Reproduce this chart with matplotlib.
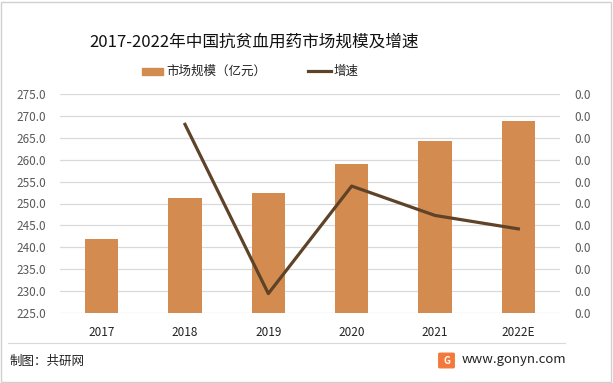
import numpy as np
import matplotlib.pyplot as plt
from matplotlib.patches import Rectangle, FancyBboxPatch
from matplotlib.lines import Line2D

plt.rcParams['font.family'] = ['Noto Sans CJK SC', 'DejaVu Sans']

years = ['2017', '2018', '2019', '2020', '2021', '2022E']
market = [241.9, 251.3, 252.5, 259.1, 264.3, 268.9]
growth = [None, 0.0384, 0.0044, 0.0260, 0.0201, 0.0174]

bar_c = '#D38B4F'
line_c = '#5E4328'

fig = plt.figure(figsize=(6.13, 3.83), dpi=100)
W, H = 613, 383
ax = fig.add_axes([60 / W, 1 - 313 / H, 500 / W, 219 / H])
x = np.arange(len(years))
ax.bar(x, market, width=0.4, color=bar_c, zorder=2)
ax.set_xlim(-0.5, len(years) - 0.5)
ax.set_ylim(225, 275)
ax.set_yticks(np.arange(225, 276, 5))
ax.set_yticklabels(['%.1f' % v for v in np.arange(225, 276, 5)], color='#595959', fontsize=8.5)
ax.set_xticks(x)
ax.set_xticklabels(years, fontsize=8.5, color='#222222')
ax.tick_params(length=0, pad=10)
ax.tick_params(axis='x', pad=9)
ax.grid(axis='y', color='#D9D9D9', lw=0.9, zorder=0)
for s in ax.spines.values():
    s.set_visible(False)

ax2 = ax.twinx()
gx = [i for i, g in enumerate(growth) if g is not None]
gy = [g for g in growth if g is not None]
ax2.plot(gx, gy, color=line_c, lw=2.3, zorder=3)
lo, step = 0.0005, 0.0044
ax2.set_ylim(lo, lo + 10 * step)
ticks = lo + step * np.arange(11)
ax2.set_yticks(ticks)
ax2.set_yticklabels(['%.1f' % t for t in ticks], color='#595959', fontsize=8.5)
ax2.tick_params(length=0, pad=10)
for s in ax2.spines.values():
    s.set_visible(False)

fig.text(254 / W, 1 - 42 / H, '2017-2022年中国抗贫血用药市场规模及增速', ha='center', va='center', fontsize=12, color='#111111')

# legend
fig.patches.append(Rectangle((142 / W, 1 - 75 / H), 21 / W, 7 / H, transform=fig.transFigure, color=bar_c))
fig.text(166 / W, 1 - 71 / H, '市场规模（亿元）', va='center', fontsize=9, color='#222222')
fig.lines.append(Line2D([308 / W, 331 / W], [1 - 71 / H, 1 - 71 / H], transform=fig.transFigure, color=line_c, lw=2.3))
fig.text(334 / W, 1 - 71 / H, '增速', va='center', fontsize=9, color='#222222')

# footer
fig.lines.append(Line2D([8 / W, 565 / W], [1 - 343 / H, 1 - 343 / H], transform=fig.transFigure, color='#D9D9D9', lw=0.8))
fig.text(10 / W, 1 - 361 / H, '制图：共研网', va='center', fontsize=9, color='#222222')
fig.patches.append(FancyBboxPatch((440 / W, 1 - 367 / H), 13 / W, 13 / H, boxstyle='round,pad=0.002', transform=fig.transFigure, color='#F2793A'))
fig.text(446.5 / W, 1 - 360.5 / H, 'G', ha='center', va='center', fontsize=7, color='white', fontweight='bold')
fig.text(462 / W, 1 - 360 / H, 'www.gonyn.com', va='center', fontsize=9.5, color='#222222')

# outer border
fig.patches.append(Rectangle((1 / W, 1 / H), 1 - 3 / W, 1 - 3 / H, transform=fig.transFigure, fill=False, ec='#D0D0D0', lw=1))

fig.savefig('out.png', dpi=100)
